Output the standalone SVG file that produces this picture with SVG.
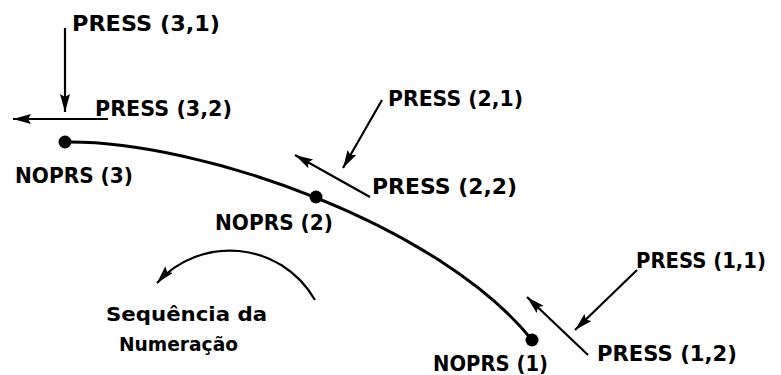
<svg xmlns="http://www.w3.org/2000/svg" width="781" height="375" viewBox="0 0 781 375">
<defs>
<marker id="ah" markerUnits="userSpaceOnUse" markerWidth="20" markerHeight="12" refX="18" refY="5" orient="auto">
<path d="M0,0 L18,5 L0,10 L3,5 z" fill="#000"/>
</marker>
<style>
.t{font-family:"DejaVu Sans","Liberation Sans",sans-serif;font-weight:bold;font-size:22px;fill:#000}
.s{font-size:20px}
.cv{stroke:#000;stroke-width:3;fill:none}
.ar{stroke:#000;stroke-width:2.2;fill:none;marker-end:url(#ah)}
</style>
</defs>
<rect width="781" height="375" fill="#fff"/>
<g id="connectors">
<path class="cv" d="M65,142 C200,140 440,225 532,340"/>
<path class="ar" d="M315,300 C280,240 200,235 157,283"/>
<line class="ar" x1="65" y1="28" x2="65" y2="112"/>
<line class="ar" x1="108" y1="119" x2="13" y2="119"/>
<line class="ar" x1="382" y1="100" x2="343" y2="168"/>
<line class="ar" x1="370" y1="197" x2="295" y2="155"/>
<line class="ar" x1="637" y1="270" x2="575" y2="330"/>
<line class="ar" x1="588" y1="355" x2="527" y2="297"/>
</g>
<g id="node3">
<circle cx="65" cy="142" r="6.5"/>
<text class="t" x="15" y="183" textLength="118" lengthAdjust="spacingAndGlyphs">NOPRS (3)</text>
</g>
<g id="node2">
<circle cx="316" cy="197" r="6.5"/>
<text class="t" x="215" y="230" textLength="118" lengthAdjust="spacingAndGlyphs">NOPRS (2)</text>
</g>
<g id="node1">
<circle cx="532" cy="340" r="6.5"/>
<text class="t" x="433" y="371" textLength="115" lengthAdjust="spacingAndGlyphs">NOPRS (1)</text>
</g>
<g id="press31"><text class="t" x="72" y="31" textLength="148" lengthAdjust="spacingAndGlyphs">PRESS (3,1)</text></g>
<g id="press32"><text class="t" x="95" y="116" textLength="137" lengthAdjust="spacingAndGlyphs">PRESS (3,2)</text></g>
<g id="press21"><text class="t" x="388" y="106" textLength="135" lengthAdjust="spacingAndGlyphs">PRESS (2,1)</text></g>
<g id="press22"><text class="t" x="372" y="194" textLength="145" lengthAdjust="spacingAndGlyphs">PRESS (2,2)</text></g>
<g id="press11"><text class="t" x="636" y="268" textLength="130" lengthAdjust="spacingAndGlyphs">PRESS (1,1)</text></g>
<g id="press12"><text class="t" x="597" y="361" textLength="140" lengthAdjust="spacingAndGlyphs">PRESS (1,2)</text></g>
<g id="sequence">
<text class="t s" x="106" y="321" textLength="161" lengthAdjust="spacingAndGlyphs">Sequência da</text>
<text class="t s" x="119" y="351" textLength="119" lengthAdjust="spacingAndGlyphs">Numeração</text>
</g>
</svg>
